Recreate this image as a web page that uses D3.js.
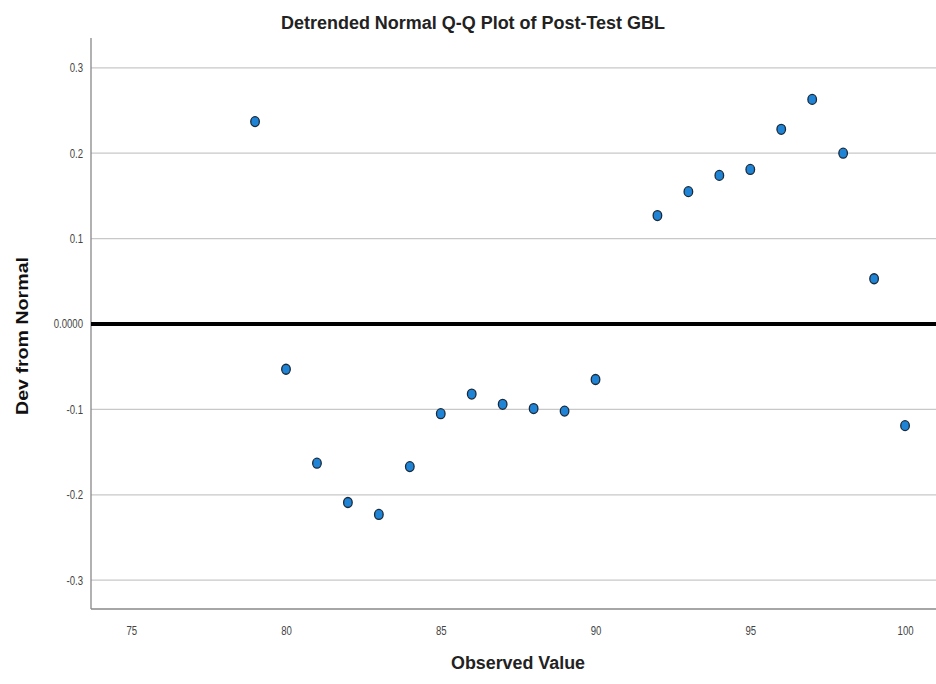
<!DOCTYPE html>
<html><head><meta charset="utf-8">
<script src="https://cdn.jsdelivr.net/npm/d3@7"></script>
<style>body{margin:0;background:#fff}svg{display:block}</style>
</head><body>
<svg id="c" width="936" height="684"></svg>
<script>
const observed = [79,80,81,82,83,84,85,86,87,88,89,90,92,93,94,95,96,97,98,99,100];
const devFromNormal = [0.237,-0.053,-0.163,-0.209,-0.223,-0.167,-0.105,-0.082,-0.094,-0.099,-0.102,-0.065,0.127,0.155,0.174,0.181,0.228,0.263,0.200,0.053,-0.119];
const xTicks = [75,80,85,90,95,100];
const yTicks = [-0.3,-0.2,-0.1,0.1,0.2,0.3];
const zeroLabel = "0.0000";
const titleText = "Detrended Normal Q-Q Plot of Post-Test GBL";
const xLabel = "Observed Value";
const yLabel = "Dev from Normal";

const svg = d3.select("#c");
const L = 91, R = 936, T = 38, B = 609;
const x = d3.scaleLinear().domain([73.7, 101.0]).range([L, R]);
const y = d3.scaleLinear().domain([0, 0.1]).range([324, 238.6]);
const font = "'Liberation Sans',Arial,sans-serif";

function condense(sel, f) {
  sel.each(function() {
    const w = this.getComputedTextLength();
    d3.select(this).attr("textLength", w * f).attr("lengthAdjust", "spacingAndGlyphs");
  });
}

// gridlines
svg.append("g").selectAll("line").data(yTicks).join("line")
  .attr("x1", L).attr("x2", R).attr("y1", d=>y(d)).attr("y2", d=>y(d))
  .attr("stroke", "#c8c8c8").attr("stroke-width", 1.2);

// axes
const yAxis = d3.axisLeft(y).tickValues(yTicks.concat([0])).tickSize(0).tickPadding(8)
  .tickFormat(d => d === 0 ? zeroLabel : d.toFixed(1));
const gy = svg.append("g").attr("transform", `translate(${L},0)`).call(yAxis);
gy.select(".domain").remove();
gy.selectAll("text").attr("font-family", font).attr("font-size", 12).attr("fill", "#444");
condense(gy.selectAll("text"), 0.8);

const xAxis = d3.axisBottom(x).tickValues(xTicks).tickSize(0).tickPadding(17).tickFormat(d3.format("d"));
const gx = svg.append("g").attr("transform", `translate(0,${B})`).call(xAxis);
gx.select(".domain").remove();
gx.selectAll("text").attr("font-family", font).attr("font-size", 12).attr("fill", "#444");
condense(gx.selectAll("text"), 0.8);

svg.append("line").attr("x1", L).attr("x2", L).attr("y1", T).attr("y2", B).attr("stroke", "#888").attr("stroke-width", 1.3);
svg.append("line").attr("x1", L).attr("x2", R).attr("y1", B).attr("y2", B).attr("stroke", "#888").attr("stroke-width", 1.3);

// zero reference line
svg.append("line").attr("x1", L).attr("x2", R).attr("y1", y(0)).attr("y2", y(0))
  .attr("stroke", "#000").attr("stroke-width", 4);

// points
svg.append("g").selectAll("ellipse").data(observed.map((o,i)=>[o, devFromNormal[i]])).join("ellipse")
  .attr("cx", d=>x(d[0])).attr("cy", d=>y(d[1])).attr("rx", 4.3).attr("ry", 5)
  .attr("fill", "#1f84d6").attr("stroke", "#1a2a3a").attr("stroke-width", 1.3);

// texts
svg.append("text").attr("x", 473).attr("y", 29).attr("text-anchor", "middle")
  .attr("font-family", font).attr("font-size", 18).attr("font-weight", "bold").attr("fill", "#222")
  .attr("textLength", 384).attr("lengthAdjust", "spacingAndGlyphs").text(titleText);
svg.append("text").attr("x", 518).attr("y", 669).attr("text-anchor", "middle")
  .attr("font-family", font).attr("font-size", 18).attr("font-weight", "bold").attr("fill", "#222")
  .attr("textLength", 134).attr("lengthAdjust", "spacingAndGlyphs").text(xLabel);
svg.append("text").attr("transform", "translate(28,336) rotate(-90)").attr("text-anchor", "middle")
  .attr("font-family", font).attr("font-size", 16).attr("font-weight", "bold").attr("fill", "#111")
  .attr("textLength", 158).attr("lengthAdjust", "spacingAndGlyphs").text(yLabel);
</script>
</body></html>
